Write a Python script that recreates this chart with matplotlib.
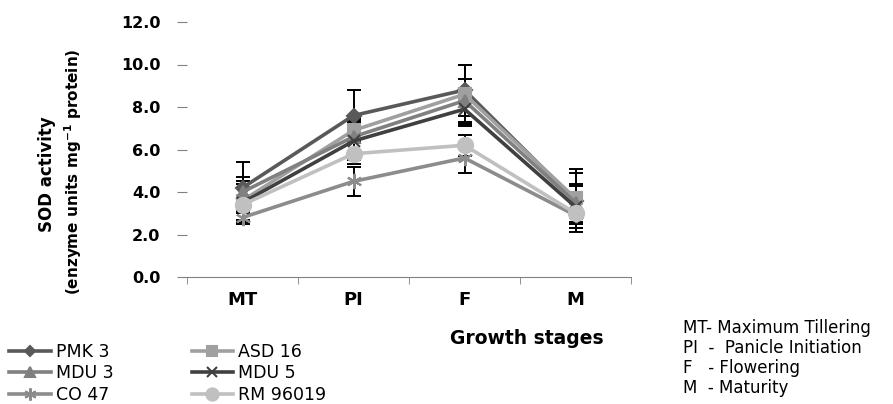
import matplotlib.pyplot as plt
import numpy as np

stages = ["MT", "PI", "F", "M"]

pmk3 = [4.2, 7.6, 8.8, 3.6]
asd16 = [3.6, 6.9, 8.6, 3.7]
mdu3 = [4.0, 6.6, 8.3, 3.5]
mdu5 = [3.5, 6.4, 7.9, 3.3]
co47 = [2.8, 4.5, 5.6, 2.9]
rm96019 = [3.4, 5.8, 6.2, 3.0]

pmk3_err = [1.2, 1.2, 1.2, 1.5]
asd16_err = [0.9, 0.6, 1.4, 1.2]
mdu3_err = [0.7, 0.8, 1.0, 0.9]
mdu5_err = [0.9, 0.9, 0.8, 1.0]
co47_err = [0.3, 0.7, 0.7, 0.6]
rm96019_err = [0.4, 0.5, 0.5, 0.7]

yticks = [0, 2, 4, 6, 8, 10, 12]

series = [
    ("PMK 3", pmk3, pmk3_err, "#595959", "D", 7),
    ("ASD 16", asd16, asd16_err, "#a0a0a0", "s", 9),
    ("MDU 3", mdu3, mdu3_err, "#808080", "^", 9),
    ("MDU 5", mdu5, mdu5_err, "#404040", "x", 9),
    ("CO 47", co47, co47_err, "#8c8c8c", (6, 2, 0), 11),
    ("RM 96019", rm96019, rm96019_err, "#c0c0c0", "o", 11),
]

fig = plt.figure(figsize=(8.93, 4.04), dpi=100)
ax = fig.add_axes([187 / 893, 1 - 277 / 404, 444 / 893, 255 / 404])

xs = np.arange(len(stages))
handles = []
for name, vals, err, color, marker, ms in series:
    ax.errorbar(xs, vals, yerr=err, fmt="none", ecolor="black",
                elinewidth=1.4, capsize=5, capthick=1.4, zorder=2)
    h, = ax.plot(xs, vals, "-", color=color, lw=2.6, marker=marker,
                 ms=ms, mec=color, mfc=color, mew=1.5, label=name, zorder=3)
    handles.append(h)

ax.set_xlim(-0.5, 3.5)
ax.set_ylim(0, 12)
ax.set_yticks(yticks)
ax.set_yticklabels([f"{v:.1f}" for v in yticks], fontweight="bold", fontsize=11.5)
ax.set_xticks(xs)
ax.set_xticklabels(stages, fontweight="bold", fontsize=13)
ax.set_xticks(np.arange(-0.5, 4, 1), minor=True)
ax.tick_params(axis="x", which="major", length=0, pad=10)
ax.tick_params(axis="x", which="minor", length=5, color="#808080", direction="out")
ax.tick_params(axis="y", length=7, color="#808080", pad=12)
for s in ["top", "right", "left"]:
    ax.spines[s].set_visible(False)
ax.spines["bottom"].set_color("#808080")

fig.text(527 / 893, 1 - 338 / 404, "Growth stages", ha="center", va="center",
         fontweight="bold", fontsize=13.5)
fig.text(47 / 893, 1 - 174 / 404, "SOD activity", rotation=90, ha="center",
         va="center", fontweight="bold", fontsize=12)
fig.text(73 / 893, 1 - 172 / 404, "(enzyme units mg$^{\\mathbf{-1}}$ protein)",
         rotation=90, ha="center", va="center", fontweight="bold", fontsize=11)

order = [0, 2, 4, 1, 3, 5]
fig.legend([handles[i] for i in order], [series[i][0] for i in order],
           loc="upper left", bbox_to_anchor=(2 / 893, 1 - 336 / 404), ncol=2,
           frameon=False, fontsize=12.5, handlelength=2.4, columnspacing=4.5,
           labelspacing=0.2, handletextpad=0.3, borderaxespad=0,
           markerscale=0.8)

notes = ["MT- Maximum Tillering", "PI  -  Panicle Initiation",
         "F   - Flowering", "M  - Maturity"]
for i, t in enumerate(notes):
    fig.text(683 / 893, 1 - (328 + 20 * i) / 404, t, ha="left", va="center",
             fontsize=12)

fig.savefig("out.png", dpi=100)
